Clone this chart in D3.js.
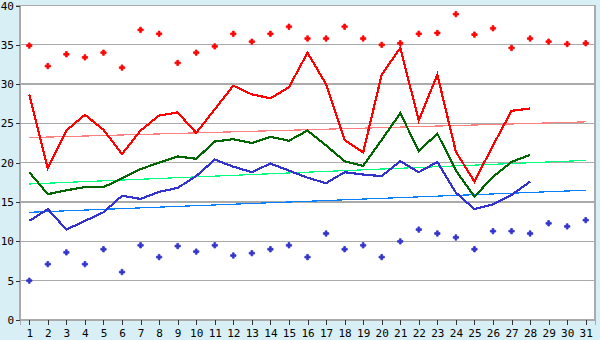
<!DOCTYPE html>
<html>
<head>
<meta charset="utf-8">
<script src="https://cdn.jsdelivr.net/npm/d3@7"></script>
<style>
  html, body { margin: 0; padding: 0; background: #d9eff6; }
  svg { display: block; }
</style>
</head>
<body>
<div class="container"></div>
<script>
// days of the month
const days = d3.range(1, 32);
const yTicks = [0, 5, 10, 15, 20, 25, 30, 35, 40];

// daily high points (red dots), all 31 days
const highPoints = [34.9, 32.3, 33.8, 33.4, 34.0, 32.1, 36.9, 36.4, 32.7, 34.0,
  34.8, 36.4, 35.4, 36.4, 37.3, 35.8, 35.8, 37.3, 35.8, 35.0,
  35.2, 36.4, 36.5, 38.9, 36.3, 37.1, 34.6, 35.8, 35.4, 35.1, 35.2];

// daily low points (blue dots)
const lowPoints = [5.0, 7.1, 8.6, 7.1, 9.0, 6.1, 9.5, 8.0, 9.4, 8.7,
  9.5, 8.2, 8.5, 9.0, 9.5, 8.0, 11.0, 9.0, 9.5, 8.0,
  10.0, 11.5, 11.0, 10.5, 9.0, 11.3, 11.3, 11.0, 12.3, 11.9, 12.7];

// lines, days 1..28
const redLine = [28.7, 19.3, 24.1, 26.1, 24.2, 21.1, 24.1, 26.0, 26.4, 23.8,
  26.8, 29.8, 28.7, 28.2, 29.6, 34.0, 30.0, 22.9, 21.3, 31.2,
  34.6, 25.4, 31.2, 21.4, 17.6, 22.2, 26.6, 26.9];
const greenLine = [18.8, 16.0, 16.5, 16.9, 16.9, 18.0, 19.2, 20.0, 20.8, 20.5,
  22.7, 23.0, 22.5, 23.3, 22.8, 24.1, 22.2, 20.2, 19.6, 22.9,
  26.3, 21.5, 23.7, 19.0, 15.7, 18.2, 20.1, 21.0];
const blueLine = [12.6, 14.1, 11.5, 12.6, 13.7, 15.8, 15.4, 16.3, 16.8, 18.3,
  20.4, 19.5, 18.8, 19.9, 19.0, 18.1, 17.4, 18.8, 18.5, 18.3,
  20.2, 18.8, 20.1, 16.2, 14.1, 14.7, 15.9, 17.6];

// trend lines, value at first and last day
const trendDays = [1, 31];
const redTrend = [23.2, 25.2];
const greenTrend = [17.3, 20.3];
const blueTrend = [13.7, 16.5];

const W = 600, H = 340;
const margin = {top: 5.5, right: 5, bottom: 20, left: 20};

const svg = d3.select(".container")
  .append("svg")
  .attr("width", W)
  .attr("height", H);

svg.append("rect")
  .attr("width", W).attr("height", H)
  .attr("fill", "#d9eff6");

const xScale = d3.scalePoint()
  .domain(days)
  .range([margin.left, W - margin.right])
  .padding(0.5);

const yScale = d3.scaleLinear()
  .domain([0, 40])
  .range([H - margin.bottom, margin.top]);

// plot area
svg.append("rect")
  .attr("x", margin.left)
  .attr("y", margin.top)
  .attr("width", W - margin.right - margin.left)
  .attr("height", H - margin.bottom - margin.top)
  .attr("fill", "#ffffff")
  .attr("stroke", "#aaaaaa")
  .attr("stroke-width", 1.3)
  .attr("shape-rendering", "crispEdges");

// grid lines
svg.append("g")
  .selectAll("line")
  .data(yTicks)
  .enter()
  .append("line")
  .attr("x1", margin.left)
  .attr("x2", W - margin.right)
  .attr("y1", d => yScale(d))
  .attr("y2", d => yScale(d))
  .attr("stroke", "#aaaaaa")
  .attr("stroke-width", 1.3)
  .attr("shape-rendering", "crispEdges");

const yAxis = svg.append("g")
  .attr("transform", "translate(" + margin.left + ",0)")
  .call(d3.axisLeft(yScale).tickValues(yTicks).tickSize(4).tickPadding(2));

const xAxis = svg.append("g")
  .attr("transform", "translate(0," + (H - margin.bottom) + ")")
  .call(d3.axisBottom(xScale).tickSize(5).tickPadding(4));

[yAxis, xAxis].forEach(function(ax) {
  ax.select(".domain").attr("stroke", "#aaaaaa").attr("stroke-width", 1.3)
    .attr("shape-rendering", "crispEdges");
  ax.selectAll(".tick line").attr("stroke", "#333333")
    .attr("shape-rendering", "crispEdges");
  ax.selectAll("text")
    .attr("fill", "#000000")
    .style("font-family", "'DejaVu Sans Mono', monospace")
    .style("font-size", "11px");
});

// trend lines
const trendLine = d3.line()
  .x((d, i) => xScale(trendDays[i]))
  .y(d => yScale(d));

[[redTrend, "#ff8080"], [greenTrend, "#00ff80"], [blueTrend, "#0a80ff"]].forEach(function(t) {
  svg.append("path")
    .datum(t[0])
    .attr("d", trendLine)
    .attr("fill", "none")
    .attr("stroke", t[1])
    .attr("stroke-width", 1.2)
    .attr("shape-rendering", "crispEdges");
});

// series lines
const seriesLine = d3.line()
  .x((d, i) => xScale(days[i]))
  .y(d => yScale(d));

[[redLine, "#ff0000"], [greenLine, "#006600"], [blueLine, "#3333cc"]].forEach(function(s) {
  svg.append("path")
    .datum(s[0])
    .attr("d", seriesLine)
    .attr("fill", "none")
    .attr("stroke", s[1])
    .attr("stroke-width", 2.2)
    .attr("stroke-linejoin", "miter")
    .attr("shape-rendering", "crispEdges");
});

// dots
const cross = d3.symbol().type(d3.symbolCross).size(16);

[[highPoints, "#ff0000"], [lowPoints, "#3333cc"]].forEach(function(p) {
  svg.append("g")
    .selectAll("path")
    .data(p[0])
    .enter()
    .append("path")
    .attr("d", cross)
    .attr("transform", (d, i) => "translate(" + xScale(days[i]) + "," + yScale(d) + ")")
    .attr("fill", p[1])
    .attr("stroke", p[1])
    .attr("stroke-width", 0.8);
});
</script>
</body>
</html>
